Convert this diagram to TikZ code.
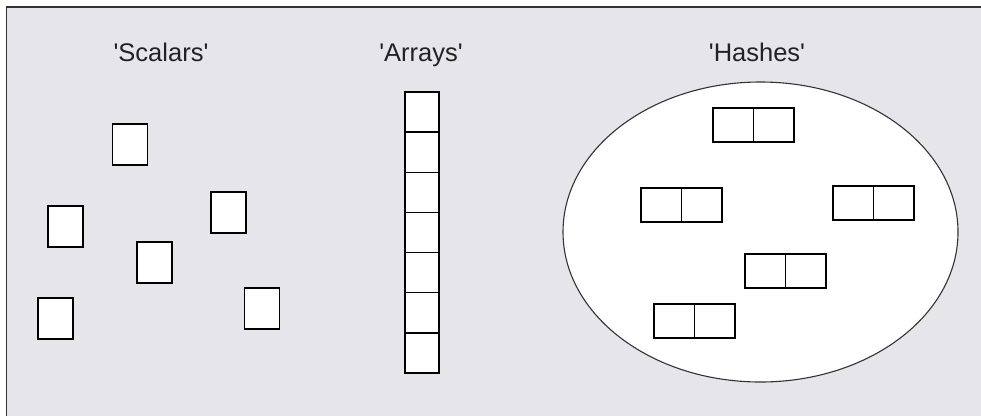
\documentclass[tikz,border=0pt]{standalone}
\usepackage{fontspec}
\setmainfont{Liberation Sans}
\usetikzlibrary{shapes.geometric}
\definecolor{bg}{HTML}{E6E6EA}
\definecolor{frameline}{HTML}{333333}
\definecolor{txt}{HTML}{222222}
\newcommand{\sq}{\textquotesingle}
\tikzset{
  cellbox/.style={draw=black, fill=white, line width=1.4pt, inner sep=0pt, outer sep=0pt},
  scalarbox/.style={cellbox, minimum width=35pt, minimum height=41pt},
  arraycell/.style={cellbox, minimum width=34pt, minimum height=40.14pt},
  hashcell/.style={cellbox, minimum width=40.5pt, minimum height=34pt},
  title/.style={font=\fontsize{25.5}{28}\selectfont, text=txt, inner sep=0pt, anchor=base},
}
\begin{document}
\begin{tikzpicture}[x=1pt,y=-1pt]
\useasboundingbox (0,0) rectangle (981,416);
% background panel
\fill[bg] (7,7) rectangle (981,416);
\draw[frameline, line width=1.5pt] (6.5,416) -- (6.5,7) -- (981,7);

% titles
\node[title] (tscal) at (161,61) {\sq Scalars\sq};
\node[title] (tarr) at (421,61) {\sq Arrays\sq};
\node[title] (thash) at (757,61) {\sq Hashes\sq};

% scalars
\node[scalarbox] (s1) at (130,144.5) {};
\node[scalarbox] (s2) at (65.5,226.5) {};
\node[scalarbox] (s3) at (228.5,212.5) {};
\node[scalarbox] (s4) at (154.5,262.5) {};
\node[scalarbox] (s5) at (55.5,318.5) {};
\node[scalarbox] (s6) at (262,308.5) {};

% array
\foreach \i in {0,...,6} {
  \node[arraycell] (a\i) at (422,{92+40.14*(\i+0.5)}) {};
}

% hash
\node[draw=frameline, fill=white, ellipse, line width=1.1pt, minimum width=395pt, minimum height=300pt, inner sep=0pt] (hashes) at (760.5,232) {};
\foreach \n/\x/\y in {hA/713/108, hB/641/188, hC/833/186, hD/745/254, hE/654/304} {
  \node[hashcell, anchor=north west] (\n k) at (\x,\y) {};
  \node[hashcell, anchor=north west] (\n v) at ({\x+40.5},\y) {};
}
\end{tikzpicture}
\end{document}
